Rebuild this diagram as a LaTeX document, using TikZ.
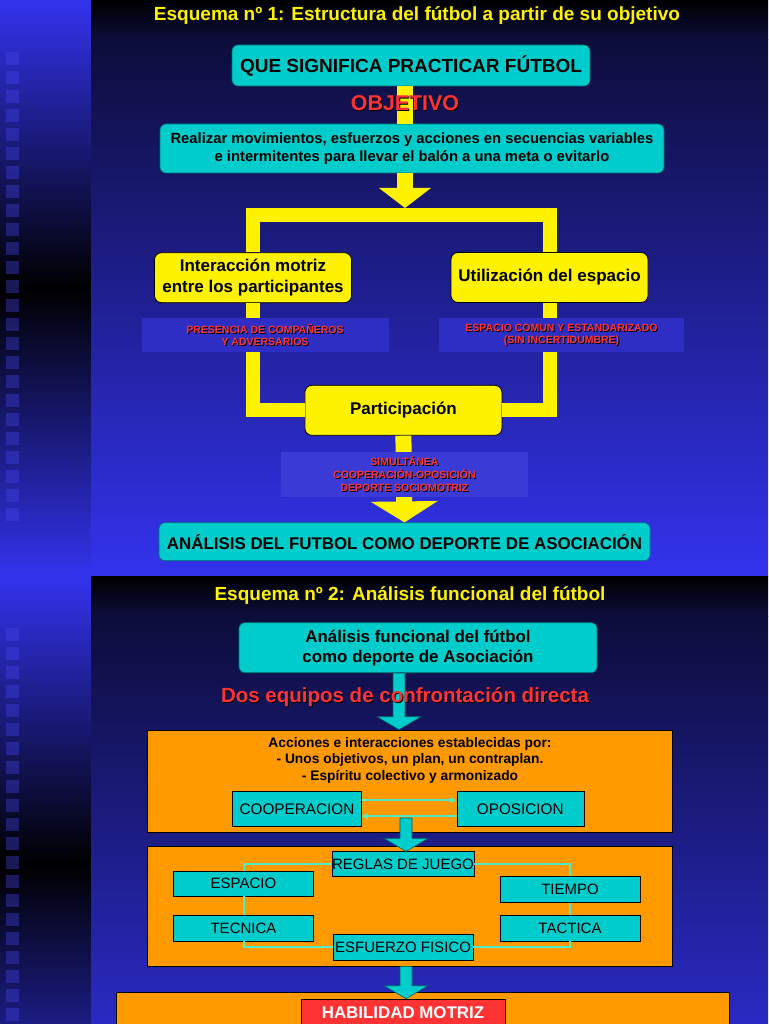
\documentclass[tikz,border=0pt]{standalone}
\usepackage{fontspec}
\setmainfont{Liberation Sans}
\usetikzlibrary{arrows.meta, positioning, calc}

\definecolor{bgblue}{RGB}{51,51,238}
\definecolor{boxcyan}{RGB}{0,204,204}
\definecolor{boxorange}{RGB}{255,153,0}
\definecolor{txtred}{RGB}{255,51,51}
\definecolor{linegreen}{RGB}{80,235,200}
\definecolor{bandblue}{RGB}{46,46,196}
\definecolor{bandblueb}{RGB}{58,58,214}

% red text with a dark shadow
\newcommand\shd[1]{\makebox[0pt][l]{\kern1pt\raisebox{-1pt}{\color{black}#1}}#1}
% cyan block arrow, straight down from #1 to #2
\newcommand\blockarrow[2]{%
  \filldraw[cyarrow] let \p1=(#1), \p2=(#2) in
    (\x1-6pt,\y1) -- (\x1-6pt,\y2+13pt) -- (\x1-22pt,\y2+13pt) -- (\x1,\y2)
    -- (\x1+22pt,\y2+13pt) -- (\x1+6pt,\y2+13pt) -- (\x1+6pt,\y1) -- cycle;}

\begin{document}
\begin{tikzpicture}[x=1pt, y=-1pt,
    title/.style={text=yellow, font=\bfseries\fontsize{19}{22}\selectfont},
    redtitle/.style={text=txtred, font=\bfseries\fontsize{21.4}{24}\selectfont},
    cbox/.style={fill=boxcyan, draw=boxcyan!55!black, line width=0.6pt, rounded corners=6pt,
      inner sep=0pt, align=center, font=\bfseries\fontsize{19}{22}\selectfont},
    ybox/.style={fill=yellow, draw=black, line width=0.8pt, rounded corners=7pt, inner sep=0pt,
      minimum width=197pt, minimum height=50pt, align=center, font=\bfseries\fontsize{17}{21}\selectfont},
    band/.style={fill=bandblue, inner sep=0pt, text=txtred, align=center,
      font=\bfseries\fontsize{10.5}{12}\selectfont},
    ybar/.style={draw=yellow, line width=14pt},
    obox/.style={fill=boxorange, draw=black, line width=0.6pt, inner sep=0pt},
    sbox/.style={fill=boxcyan, draw=black, line width=0.6pt, inner sep=0pt,
      minimum width=140pt, minimum height=26pt, font=\fontsize{15}{16}\selectfont},
    link/.style={draw=linegreen, line width=2pt},
    cyarrow/.style={fill=boxcyan, draw=boxcyan!45!black, line width=0.6pt},
    sq/.style={fill=bgblue!90!white, fill opacity=0.35}
  ]
  \useasboundingbox (0,0) rectangle (768,1024);
  \clip (0,0) rectangle (768,1024);

  % background, left strip and the two slides
  \fill[bgblue] (0,0) rectangle (768,1024);
  \foreach \top in {0,576} {
    \shade[top color=bgblue, bottom color=bgblue, middle color=black] (0,\top) rectangle (91,\top+576);
    \foreach \k in {0,...,24}
      \fill[sq] (6,\top+52+19*\k) rectangle ++(13,13);
    \shade[top color=black, bottom color=bgblue!25!black] (91,\top) rectangle (768,\top+40);
    \shade[top color=bgblue!25!black, middle color=bgblue!65!black, bottom color=bgblue]
      (91,\top+40) rectangle (768,\top+576);
  }

  % Esquema 1
  \node[title] (titleA) at (417,16) {Esquema nº 1: Estructura del fútbol a partir de su objetivo};
  \node[cbox, minimum width=358pt, minimum height=41pt] (que) at (411,65.5) {QUE SIGNIFICA PRACTICAR FÚTBOL};
  \node[cbox, minimum width=504pt, minimum height=49pt, font=\bfseries\fontsize{14.8}{18}\selectfont]
    (realizar) at (412,148.5) {Realizar movimientos, esfuerzos y acciones en secuencias variables\\
    e intermitentes para llevar el balón a una meta o evitarlo};
  \coordinate (top) at (405,215);
  \draw[ybar, line width=16pt] (que.south -| top) -- (realizar.north -| top);
  \node[redtitle] (objetivo) at (405,104) {\shd{OBJETIVO}};
  \draw[ybar, line width=16pt, -{Triangle[length=20pt, width=51pt]}] (realizar.south -| top) -- ([yshift=7pt]top);

  \node[ybox] (inter) at (253,277.7) {Interacción motriz\\entre los participantes};
  \node[ybox] (util) at (549.5,277.5) {Utilización del espacio};
  \node[ybox] (partic) at (403.4,410.3) {Participación};
  \node[cbox, minimum width=491pt, minimum height=38pt, font=\bfseries\fontsize{16.9}{18}\selectfont]
    (final) at (404.5,541.7) {ANÁLISIS DEL FUTBOL COMO DEPORTE DE ASOCIACIÓN};

  \draw[ybar] (inter.north) |- (top) -| (util.north);
  \draw[ybar] (inter.south) |- (partic.west);
  \draw[ybar] (util.south) |- (partic.east);
  \draw[ybar, line width=16pt, -{Triangle[length=21pt, width=66pt]}] (partic.south) -- (final.north);

  \node[band, minimum width=247pt, minimum height=34pt] (companeros) at (265,335)
    {\shd{PRESENCIA DE COMPAÑEROS}\\\shd{Y ADVERSARIOS}};
  \node[band, minimum width=245pt, minimum height=34pt] (espaciocomun) at (561.5,335)
    {\shd{ESPACIO COMUN Y ESTANDARIZADO}\\\shd{(SIN INCERTIDUMBRE)}};
  \node[band, fill=bandblueb, minimum width=247pt, minimum height=45pt, font=\bfseries\fontsize{10.5}{13}\selectfont]
    (simultanea) at (404.4,474.3)
    {\shd{SIMULTÁNEA}\\\shd{COOPERACIÓN-OPOSICIÓN}\\\shd{DEPORTE SOCIOMOTRIZ}};

  % Esquema 2
  \node[title] (titleB) at (410,595) {Esquema nº 2: Análisis funcional del fútbol};
  \node[cbox, minimum width=358pt, minimum height=50pt, font=\bfseries\fontsize{16.9}{20}\selectfont]
    (func) at (418,647.7) {Análisis funcional del fútbol\\como deporte de Asociación};
  \node[obox, minimum width=525pt, minimum height=102pt] (acc) at (410,781) {};
  \blockarrow{[xshift=-19pt]func.south}{acc.north}
  \node[redtitle, font=\bfseries\fontsize{20.5}{24}\selectfont] (dos) at (405,698) {\shd{Dos equipos de confrontación directa}};
  \node[align=center, font=\bfseries\fontsize{13.8}{16.5}\selectfont] (acciones) at (410,760)
    {Acciones e interacciones establecidas por:\\- Unos objetivos, un plan, un contraplan.\\- Espíritu colectivo y armonizado};
  \node[sbox, minimum width=129pt, minimum height=35pt, font=\fontsize{15.3}{16}\selectfont] (coop) at (297,809.2) {COOPERACION};
  \node[sbox, minimum width=127pt, minimum height=35pt, font=\fontsize{15.3}{16}\selectfont] (opos) at (520.3,809.2) {OPOSICION};
  \draw[link, -{Triangle[length=6pt, width=6pt]}] ([yshift=9pt]coop.east) -- ([yshift=9pt]opos.west);
  \draw[link, -{Triangle[length=6pt, width=6pt]}] ([yshift=-7pt]opos.west) -- ([yshift=-7pt]coop.east);

  \node[obox, minimum width=525pt, minimum height=120pt] (juego) at (410,906) {};
  \node[sbox, minimum height=25pt] (reglas) at (403,864.2) {REGLAS DE JUEGO};
  \node[sbox, minimum height=25pt] (espacio) at (243.5,883.4) {ESPACIO};
  \node[sbox] (tiempo) at (570,889.7) {TIEMPO};
  \node[sbox] (tecnica) at (243.5,928) {TECNICA};
  \node[sbox] (tactica) at (570,928) {TACTICA};
  \node[sbox] (esfuerzo) at (403,947) {ESFUERZO FISICO};
  \draw[link] (reglas.east) -| (tiempo.north);
  \draw[link] (tiempo.south) -- (tactica.north);
  \draw[link] (tactica.south) |- (esfuerzo.east);
  \draw[link] (esfuerzo.west) -| (tecnica.south);
  \draw[link] (tecnica.north) -- (espacio.south);
  \draw[link] (espacio.north) |- (reglas.west);
  \coordinate (split) at (406,818);
  \blockarrow{split}{reglas.north}

  \node[obox, minimum width=613pt, minimum height=60pt] (motriz) at (422.5,1022) {};
  \node[fill=txtred, draw=black, line width=0.6pt, inner sep=0pt, minimum width=204pt, minimum height=28pt,
    text=white, font=\bfseries\fontsize{16.9}{18}\selectfont] (habil) at (403,1013) {HABILIDAD MOTRIZ};
  \blockarrow{[xshift=-4pt]juego.south}{habil.north}
\end{tikzpicture}
\end{document}
